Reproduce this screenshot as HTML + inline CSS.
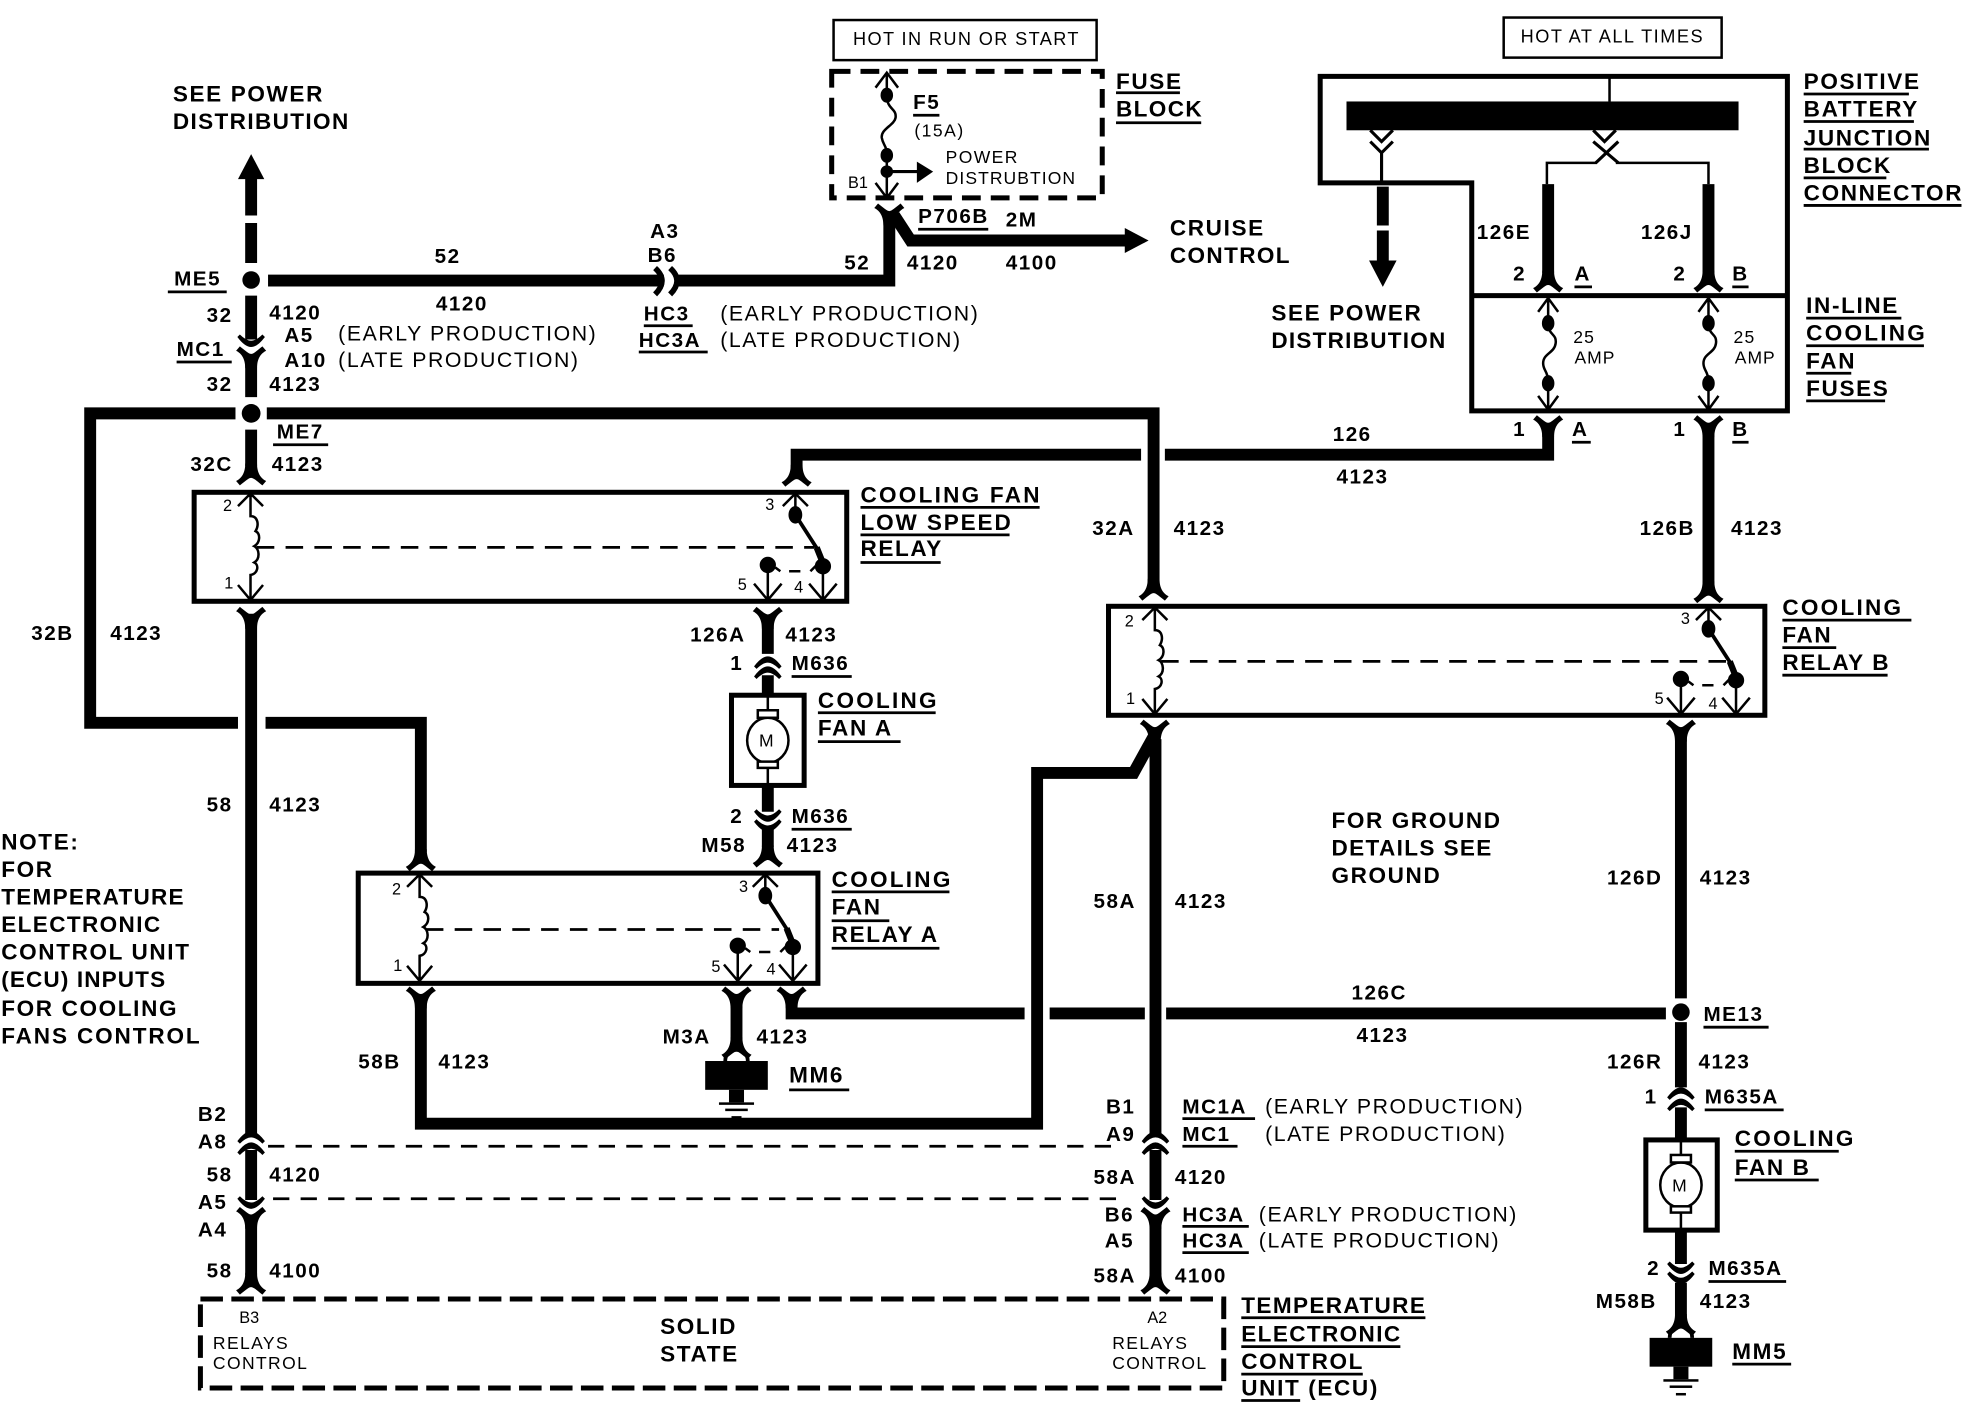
<!DOCTYPE html>
<html><head><meta charset="utf-8"><style>
html,body{margin:0;padding:0;background:#fff}
svg{display:block;width:1964px;height:1408px}
text{fill:#000;font-family:"Liberation Sans",sans-serif}
.l{font-size:18px;font-weight:bold;letter-spacing:1.3px}
.c{font-size:18px;font-weight:bold;letter-spacing:1.8px}
.d{font-size:16.5px;font-weight:bold;letter-spacing:1.2px}
.r{font-size:17px;letter-spacing:1.25px}
.s{font-size:14px;letter-spacing:1.1px}
.p{font-size:13px}
.a{font-size:14px;letter-spacing:1px}
.w{fill:none;stroke:#000;stroke-width:9.5}
.u{fill:none;stroke:#000;stroke-width:2.2}
.t{fill:none;stroke:#000;stroke-width:2}
.box{fill:none;stroke:#000;stroke-width:4}
.dash{fill:none;stroke:#000;stroke-width:4;stroke-dasharray:18 6.7}
.dl{fill:none;stroke:#000;stroke-width:2.2;stroke-dasharray:14 9}
</style></head><body>
<svg xmlns="http://www.w3.org/2000/svg" viewBox="0 0 1568 1124" preserveAspectRatio="none">
<defs>
<path id="fd" d="M-12 0C-8-2-4.700-6-4.700-14L4.700-14C4.700-6 8-2 12 0L9 3.500C4.500 0 2-2.500 0-2.500C-2-2.500-4.500 0-9 3.500Z"/>
<path id="fu" d="M-12 0C-8 2-4.700 6-4.700 14L4.700 14C4.700 6 8 2 12 0L9-3.500C4.500 0 2 2.500 0 2.500C-2 2.500-4.500 0-9-3.500Z"/>
<g id="cap"><path d="M-11 3Q-5-5 0-5Q5-5 11 3L9 5Q4 0 0 0Q-4 0-9 5Z"/></g>
<g id="cup"><path d="M-11-3Q-5 5 0 5Q5 5 11-3L9-5Q4 0 0 0Q-4 0-9-5Z"/></g>
<g id="fuse" fill="none" stroke="#000" stroke-width="2">
<path d="M-8 11L0 0L8 11M0 0V20"/><ellipse cx="0" cy="20" rx="4" ry="5.500" fill="#000"/>
<path d="M0 20C0 30 7 28 6 36C5 44-4 44-4 52C-4 58 0 58 0 68"/><ellipse cx="0" cy="68" rx="4" ry="5.500" fill="#000"/>
<path d="M0 68V89M-8 78L0 89L8 78"/>
</g>
<g id="coil" fill="none" stroke="#000" stroke-width="2">
<path d="M-10 11L0 1L10 11M0 1V19C6 19 7 26 4 31C8 33 8 40 3 43C7 45 8 53 3 56C7 58 6 65 0 66V86M-10 74L0 86L10 74"/>
</g>
<g id="sw" fill="none" stroke="#000" stroke-width="2">
<path d="M-10 11L0 1L10 11M0 1V18"/>
<ellipse cx="0" cy="18" rx="4.500" ry="6" fill="#000"/>
<path d="M0 18L18 46" stroke-width="3"/><path d="M17 44L23 59" stroke-width="5"/>
<circle cx="22" cy="59" r="5.500" fill="#000"/>
<path d="M22 59V86M11 73L22 86L33 73"/>
<circle cx="-22" cy="58" r="5.500" fill="#000"/>
<path d="M-22 58V86M-33 73L-22 86L-11 73"/>
<path d="M-16 60L-12 63M-5 63H4M12 63L17 58"/>
</g>
<g id="mot" fill="none" stroke="#000" stroke-width="2">
<path d="M0 2V22M0 68V90"/>
<ellipse cx="0" cy="46" rx="16.500" ry="18"/>
<rect x="-8" y="22" width="16" height="6" fill="#fff"/>
<rect x="-8" y="63" width="16" height="5" fill="#fff"/>
</g>
<g id="gnd"><rect x="-25" y="0" width="50" height="23"/><path d="M-9 0C-9-12 9-12 9 0" fill="none" stroke="#000" stroke-width="3"/><rect x="-6" y="23" width="12" height="10"/><rect x="-14" y="33" width="28" height="2"/><rect x="-9" y="38" width="18" height="2"/><rect x="-4" y="44" width="8" height="2"/></g>
</defs>

<!-- boxes -->
<rect x="665.500" y="16" width="210" height="32" fill="none" stroke="#000" stroke-width="2"/>
<rect x="1200.500" y="14" width="174" height="32" fill="none" stroke="#000" stroke-width="2"/>
<rect x="664" y="57" width="216" height="101" class="dash" style="stroke-dasharray:15 8"/>
<rect x="160" y="1037" width="817" height="71" class="dash"/>
<path class="box" d="M1054 61H1427V328H1175V146H1054Z"/>
<path class="box" d="M1175 236H1427"/>
<rect x="1075" y="81" width="313" height="23"/>
<path class="t" d="M1285 60V81"/>
<rect x="155" y="393" width="521" height="87" class="box"/>
<rect x="286" y="697" width="367" height="88" class="box"/>
<rect x="885" y="484" width="524" height="87" class="box"/>
<rect x="584" y="555" width="58" height="72" class="box"/>
<rect x="1314" y="910" width="57" height="72" class="box"/>

<!-- thick wires -->
<path class="w" d="M200.500 140V172M200.500 178V210M200.500 236V271M200.500 290V317M200.500 343V372"/>
<path d="M200.500 123L211 143H190Z"/>
<circle cx="200.500" cy="223.500" r="7"/><circle cx="200.500" cy="330" r="7.500"/>
<use href="#cup" x="200.500" y="272"/><use href="#fu" x="200.500" y="280"/>
<use href="#fd" x="200.500" y="384"/>
<path class="w" d="M214 224H530M541 224H710V174"/>
<path d="M523 214Q534 224 523 235" fill="none" stroke="#000" stroke-width="4.500"/>
<path d="M535 214Q546 224 535 235" fill="none" stroke="#000" stroke-width="4.500"/>
<use href="#fu" x="710" y="166"/>
<path class="w" d="M714 172L727 192H902"/>
<path d="M917 192L898 182V202Z"/>
<path class="w" d="M213 330H921V472M188 330H72V577H190M212 577H336V680"/>
<use href="#fd" x="921" y="476"/><use href="#fd" x="336" y="692"/>
<path class="w" d="M200.500 490V906"/><use href="#fu" x="200.500" y="488"/>
<use href="#cap" x="200.500" y="908"/><use href="#cap" x="200.500" y="917"/>
<path class="w" d="M200.500 918V958"/>
<use href="#cup" x="200.500" y="960"/>
<use href="#fu" x="200.500" y="967"/>
<path class="w" d="M200.500 975V1018"/><use href="#fd" x="200.500" y="1030"/>
<path class="w" d="M636 378V363H911M930 363H1236V340"/>
<use href="#fd" x="636" y="385"/><use href="#fu" x="1236" y="335"/><use href="#fu" x="1364" y="335"/>
<path class="w" d="M1364 345V472"/><use href="#fd" x="1364" y="478"/>
<path class="w" d="M1236 147V218M1364 147V218"/>
<use href="#fd" x="1236" y="230"/><use href="#fd" x="1364" y="230"/>
<path class="w" d="M613 495V522"/><use href="#fu" x="613" y="488"/>
<use href="#cap" x="613" y="529"/><use href="#cap" x="613" y="537"/>
<path class="w" d="M613 539V555M613 627V648"/>
<use href="#cup" x="613" y="651"/><use href="#cup" x="613" y="659"/>
<path class="w" d="M613 662V676"/><use href="#fd" x="613" y="689"/>
<path class="w" d="M336 800V897H828V617H905L921 588"/>
<use href="#fu" x="336" y="791"/>
<path class="w" d="M922.500 590V906"/><use href="#fu" x="922" y="578"/>
<use href="#cap" x="922.500" y="908"/><use href="#cap" x="922.500" y="917"/>
<path class="w" d="M922.500 918V958"/>
<use href="#cup" x="922.500" y="960"/>
<use href="#fu" x="922.500" y="967"/>
<path class="w" d="M922.500 975V1018"/><use href="#fd" x="922.500" y="1030"/>
<path class="w" d="M1342 585V797M1342 816V868"/><use href="#fu" x="1342" y="578"/>
<use href="#cap" x="1342" y="873"/><use href="#cap" x="1342" y="882"/>
<path class="w" d="M1342 884V910M1342 982V1009"/>
<use href="#cup" x="1342" y="1012"/><use href="#cup" x="1342" y="1020"/>
<path class="w" d="M1342 1024V1055"/><use href="#fd" x="1342" y="1063"/>
<circle cx="1342" cy="808" r="7"/>
<path class="w" d="M632 798V809H818M838 809H914M931 809H1330"/>
<use href="#fu" x="632" y="791"/>
<path class="w" d="M588 800V830"/><use href="#fu" x="588" y="791"/><use href="#fd" x="588" y="842"/>
<use href="#gnd" x="588" y="847"/><use href="#gnd" x="1342" y="1068"/>

<!-- dashed horizontals -->
<path class="dl" style="stroke-dasharray:13 9" d="M214 915H892M218 957H892"/>

<!-- bus connectors & see power -->
<g fill="none" stroke="#000" stroke-width="2.500">
<path d="M1094 104L1103 113L1112 104M1094 113L1103 122L1112 113M1103 122V147" />
<path d="M1272 104L1281 113L1290 104"/>
<path d="M1272 113L1292 130M1292 113L1274 130"/>
<path d="M1275 130H1235V147M1290 130H1364V147" stroke-width="2"/>
</g>
<path class="w" d="M1104 149V180M1104 184V213"/>
<path d="M1104 229L1093 208H1115Z"/>

<!-- fuses -->
<use href="#fuse" x="1236" y="238"/><use href="#fuse" x="1364" y="238"/>
<g fill="none" stroke="#000" stroke-width="2">
<path d="M699 70L708 58L717 70M708 58V76"/><ellipse cx="708" cy="76" rx="4" ry="5" fill="#000"/><path d="M708 76C708 88 716 86 715 94C714 100 703 103 704 110C705 116 708 116 708 124"/>
<ellipse cx="708" cy="124" rx="4" ry="5" fill="#000"/><path d="M708 124V158M699 146L708 158L717 146"/>
<circle cx="708" cy="137" r="4" fill="#000"/>
</g>
<path d="M708 137H734" stroke="#000" stroke-width="2.500"/><path d="M745 137L732 129V146Z"/>

<!-- relay internals -->
<use href="#coil" x="200" y="393"/><use href="#coil" x="335" y="697"/><use href="#coil" x="922" y="484"/>
<use href="#sw" x="635" y="393"/><use href="#sw" x="611" y="697"/><use href="#sw" x="1364" y="484"/>
<path class="dl" d="M205 437H650M340 742H622M927 528H1378"/>

<!-- motors -->
<use href="#mot" x="613" y="545"/><use href="#mot" x="1342" y="900"/>
<text class="s" x="606" y="596" style="letter-spacing:0">M</text><text class="s" x="1335" y="951" style="letter-spacing:0">M</text>

<!-- labels -->
<text class="l" x="138" y="81">SEE POWER</text>
<text class="l" x="138" y="103" style="letter-spacing:1.1px">DISTRIBUTION</text>
<text x="681" y="36" style="font-size:14.500px;letter-spacing:1.100px">HOT IN RUN OR START</text>
<text x="1214" y="34" style="font-size:14.500px;letter-spacing:1.200px">HOT AT ALL TIMES</text>
<text class="l" x="891" y="71">FUSE</text><text class="l" x="891" y="93" style="letter-spacing:1.100px">BLOCK</text>
<text class="d" x="729" y="87">F5</text><text class="s" x="730" y="109" style="letter-spacing:1.200px">(15A)</text>
<text class="s" x="755" y="130">POWER</text><text class="s" x="755" y="147" style="letter-spacing:.85px">DISTRUBTION</text>
<text class="p" x="677" y="150">B1</text>
<text class="d" x="733" y="178">P706B</text><text class="d" x="803" y="181">2M</text>
<text class="d" x="674" y="215">52</text><text class="d" x="724" y="215">4120</text><text class="d" x="803" y="215">4100</text>
<text class="l" x="934" y="188">CRUISE</text><text class="l" x="934" y="210" style="letter-spacing:1.100px">CONTROL</text>
<text class="d" x="347" y="210">52</text><text class="d" x="348" y="248">4120</text>
<text class="d" x="519" y="190">A3</text><text class="d" x="517" y="209">B6</text>
<text class="d" x="514" y="256">HC3</text><text class="d" x="510" y="277">HC3A</text>
<text class="r" x="575" y="256">(EARLY PRODUCTION)</text><text class="r" x="575" y="277">(LATE PRODUCTION)</text>
<text class="d" x="139" y="228">ME5</text><text class="d" x="165" y="257">32</text><text class="d" x="215" y="255">4120</text>
<text class="d" x="227" y="273">A5</text><text class="r" x="270" y="272">(EARLY PRODUCTION)</text>
<text class="d" x="227" y="293">A10</text><text class="r" x="270" y="293">(LATE PRODUCTION)</text>
<text class="d" x="141" y="284">MC1</text><text class="d" x="165" y="312">32</text><text class="d" x="215" y="312">4123</text>
<text class="d" x="221" y="350">ME7</text><text class="d" x="152" y="376">32C</text><text class="d" x="217" y="376">4123</text>
<text class="d" x="25" y="511">32B</text><text class="d" x="88" y="511">4123</text>
<text class="d" x="165" y="648">58</text><text class="d" x="215" y="648">4123</text>
<text class="l" x="1" y="678">NOTE:</text><text class="l" x="1" y="700">FOR</text><text class="l" x="1" y="722" style="letter-spacing:1px">TEMPERATURE</text><text class="l" x="1" y="744" style="letter-spacing:1.100px">ELECTRONIC</text><text class="l" x="1" y="766">CONTROL UNIT</text><text class="l" x="1" y="788" style="letter-spacing:.9px">(ECU) INPUTS</text><text class="l" x="1" y="811">FOR COOLING</text><text class="l" x="1" y="833" style="letter-spacing:1.500px">FANS CONTROL</text>
<text class="c" x="687" y="401">COOLING FAN</text><text class="l" x="687" y="423" style="letter-spacing:1.500px">LOW SPEED</text><text class="l" x="687" y="444">RELAY</text>
<text class="p" x="178" y="408">2</text><text class="p" x="179" y="470">1</text><text class="p" x="611" y="407">3</text><text class="p" x="589" y="471">5</text><text class="p" x="634" y="473">4</text>
<text class="d" x="551" y="512">126A</text><text class="d" x="627" y="512">4123</text><text class="d" x="583" y="535">1</text><text class="d" x="632" y="535">M636</text>
<text class="c" x="653" y="565">COOLING</text><text class="l" x="653" y="587">FAN A</text>
<text class="d" x="583" y="657">2</text><text class="d" x="632" y="657">M636</text><text class="d" x="560" y="680">M58</text><text class="d" x="628" y="680">4123</text>
<text class="c" x="664" y="708">COOLING</text><text class="l" x="664" y="730">FAN</text><text class="l" x="664" y="752">RELAY A</text>
<text class="p" x="313" y="714">2</text><text class="p" x="314" y="775">1</text><text class="p" x="590" y="712">3</text><text class="p" x="568" y="776">5</text><text class="p" x="612" y="778">4</text>
<text class="d" x="286" y="853">58B</text><text class="d" x="350" y="853">4123</text><text class="d" x="529" y="833">M3A</text><text class="d" x="604" y="833">4123</text><text class="l" x="630" y="864">MM6</text>
<text class="d" x="872" y="427">32A</text><text class="d" x="937" y="427">4123</text>
<text class="d" x="1064" y="352">126</text><text class="d" x="1067" y="386">4123</text>
<text class="d" x="1309" y="427">126B</text><text class="d" x="1382" y="427">4123</text>
<text class="d" x="1179" y="191">126E</text><text class="d" x="1310" y="191">126J</text>
<text class="d" x="1208" y="224">2</text><text class="d" x="1257" y="224">A</text><text class="d" x="1336" y="224">2</text><text class="d" x="1383" y="224">B</text>
<text class="d" x="1208" y="348">1</text><text class="d" x="1255" y="348">A</text><text class="d" x="1336" y="348">1</text><text class="d" x="1383" y="348">B</text>
<text class="l" x="1015" y="256">SEE POWER</text><text class="l" x="1015" y="278" style="letter-spacing:1px">DISTRIBUTION</text>
<text class="l" x="1440" y="71">POSITIVE</text><text class="l" x="1440" y="93">BATTERY</text><text class="l" x="1440" y="116">JUNCTION</text><text class="l" x="1440" y="138">BLOCK</text><text class="l" x="1440" y="160">CONNECTOR</text>
<text class="l" x="1442" y="250">IN-LINE</text><text class="c" x="1442" y="272">COOLING</text><text class="l" x="1442" y="294">FAN</text><text class="l" x="1442" y="316">FUSES</text>
<text class="a" x="1256" y="274">25</text><text class="a" x="1257" y="290" style="letter-spacing:.8px">AMP</text><text class="a" x="1384" y="274">25</text><text class="a" x="1385" y="290" style="letter-spacing:.8px">AMP</text>
<text class="c" x="1423" y="491">COOLING</text><text class="l" x="1423" y="513">FAN</text><text class="l" x="1423" y="535">RELAY B</text>
<text class="p" x="898" y="500">2</text><text class="p" x="899" y="562">1</text><text class="p" x="1342" y="498">3</text><text class="p" x="1321" y="562">5</text><text class="p" x="1364" y="566">4</text>
<text class="l" x="1063" y="661">FOR GROUND</text><text class="l" x="1063" y="683" style="letter-spacing:1.100px">DETAILS SEE</text><text class="l" x="1063" y="705">GROUND</text>
<text class="d" x="873" y="725">58A</text><text class="d" x="938" y="725">4123</text><text class="d" x="1283" y="706">126D</text><text class="d" x="1357" y="706">4123</text>
<text class="d" x="1079" y="798">126C</text><text class="d" x="1083" y="832">4123</text>
<text class="d" x="1360" y="815">ME13</text><text class="d" x="1283" y="853">126R</text><text class="d" x="1356" y="853">4123</text>
<text class="d" x="1313" y="881">1</text><text class="d" x="1361" y="881">M635A</text>
<text class="c" x="1385" y="915">COOLING</text><text class="l" x="1385" y="938">FAN B</text>
<text class="d" x="1315" y="1018">2</text><text class="d" x="1364" y="1018">M635A</text><text class="d" x="1274" y="1044">M58B</text><text class="d" x="1357" y="1044">4123</text><text class="l" x="1383" y="1085">MM5</text>
<text class="d" x="883" y="889">B1</text><text class="d" x="883" y="911">A9</text><text class="d" x="944" y="889">MC1A</text><text class="d" x="944" y="911">MC1</text>
<text class="r" x="1010" y="889">(EARLY PRODUCTION)</text><text class="r" x="1010" y="911">(LATE PRODUCTION)</text>
<text class="d" x="158" y="895">B2</text><text class="d" x="158" y="917">A8</text><text class="d" x="165" y="943">58</text><text class="d" x="215" y="943">4120</text>
<text class="d" x="158" y="965">A5</text><text class="d" x="158" y="987">A4</text><text class="d" x="165" y="1020">58</text><text class="d" x="215" y="1020">4100</text>
<text class="d" x="873" y="945">58A</text><text class="d" x="938" y="945">4120</text><text class="d" x="882" y="975">B6</text><text class="d" x="944" y="975">HC3A</text>
<text class="r" x="1005" y="975">(EARLY PRODUCTION)</text><text class="d" x="882" y="996">A5</text><text class="d" x="944" y="996">HC3A</text><text class="r" x="1005" y="996">(LATE PRODUCTION)</text>
<text class="d" x="873" y="1024">58A</text><text class="d" x="938" y="1024">4100</text>
<text class="l" x="991" y="1048" style="letter-spacing:1.100px">TEMPERATURE</text><text class="l" x="991" y="1071" style="letter-spacing:1.100px">ELECTRONIC</text><text class="l" x="991" y="1093">CONTROL</text><text class="l" x="991" y="1114">UNIT (ECU)</text>
<text class="p" x="191" y="1056">B3</text><text class="s" x="170" y="1077">RELAYS</text><text class="s" x="170" y="1093">CONTROL</text>
<text class="p" x="916" y="1056">A2</text><text class="s" x="888" y="1077">RELAYS</text><text class="s" x="888" y="1093">CONTROL</text>
<text class="l" x="527" y="1065">SOLID</text><text class="l" x="527" y="1087">STATE</text>

<!-- underlines -->
<path class="u" d="M891 74H942M891 98H959M729 92H750M733 183H789M514 260H553M510 281H565M134 233H181M141 289H185M218 355H262
M687 405H830M687 427H806M687 449H751M632 540H680M653 569H747M653 592H719M632 662H680M664 712H758M664 735H710M664 757H750M630 870H678
M1257 229H1271M1383 229H1396M1255 353H1270M1383 353H1396
M1440 75H1524M1440 97H1528M1440 119H1540M1440 142H1506M1440 164H1566M1442 254H1518M1442 276H1536M1442 298H1478M1442 320H1505
M1423 495H1526M1423 517H1466M1423 539H1507M1360 820H1412M1361 886H1424M1385 919H1468M1385 942H1452M1364 1023H1426M1383 1089H1430
M944 893H1002M944 915H988M944 979H997M944 1000H997M991 1052H1138M991 1075H1118M991 1097H1088M991 1118H1038"/>
</svg>
</body></html>
